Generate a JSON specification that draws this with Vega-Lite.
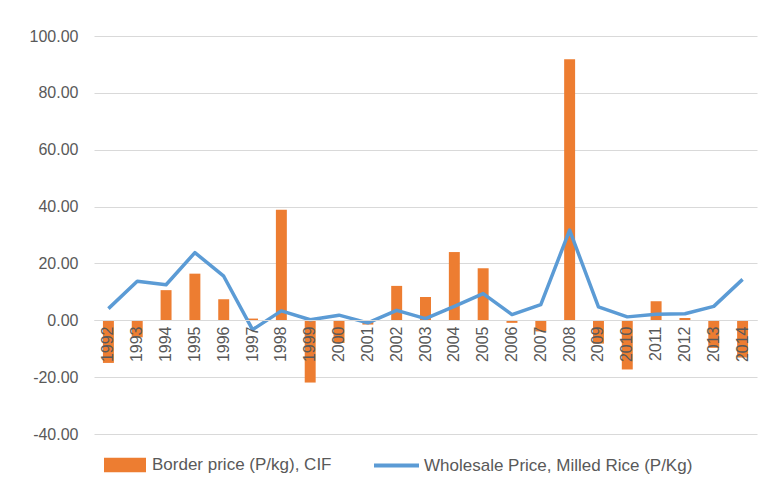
{
  "$schema": "https://vega.github.io/schema/vega-lite/v6.json",
  "width": 663,
  "height": 398,
  "autosize": {"type": "none"},
  "padding": {"left": 94, "top": 36, "right": 10, "bottom": 64},
  "background": "white",
  "config": {
    "view": {"stroke": null},
    "font": "Liberation Sans",
    "locale": {"number": {"decimal": ".", "thousands": ",", "grouping": [3], "currency": ["$", ""], "minus": "-"}},
    "axis": {"labelFont": "Liberation Sans", "labelColor": "#595959"},
    "legend": {"labelFont": "Liberation Sans", "labelColor": "#595959", "labelLimit": 400}
  },
  "data": {
    "values": [
      {"year": "1992", "border": -15.0, "wholesale": 4.1},
      {"year": "1993", "border": -6.0, "wholesale": 13.7},
      {"year": "1994", "border": 10.6, "wholesale": 12.5},
      {"year": "1995", "border": 16.4, "wholesale": 23.8},
      {"year": "1996", "border": 7.4, "wholesale": 15.5},
      {"year": "1997", "border": 0.6, "wholesale": -3.3},
      {"year": "1998", "border": 38.9, "wholesale": 3.3},
      {"year": "1999", "border": -21.9, "wholesale": 0.2},
      {"year": "2000", "border": -8.0, "wholesale": 1.8},
      {"year": "2001", "border": -1.5, "wholesale": -0.9},
      {"year": "2002", "border": 12.1, "wholesale": 3.5},
      {"year": "2003", "border": 8.2, "wholesale": 0.6},
      {"year": "2004", "border": 24.0, "wholesale": 4.9},
      {"year": "2005", "border": 18.3, "wholesale": 9.4},
      {"year": "2006", "border": -0.9, "wholesale": 2.0},
      {"year": "2007", "border": -3.9, "wholesale": 5.5},
      {"year": "2008", "border": 91.8, "wholesale": 31.7},
      {"year": "2009", "border": -8.2, "wholesale": 4.7},
      {"year": "2010", "border": -17.3, "wholesale": 1.2},
      {"year": "2011", "border": 6.7, "wholesale": 2.1},
      {"year": "2012", "border": 0.8, "wholesale": 2.3},
      {"year": "2013", "border": -9.7, "wholesale": 4.9},
      {"year": "2014", "border": -13.1, "wholesale": 14.4}
    ]
  },
  "encoding": {
    "x": {
      "field": "year",
      "type": "ordinal",
      "title": null,
      "scale": {"paddingInner": 0.62, "paddingOuter": 0.31},
      "axis": {
        "orient": "bottom",
        "offset": -114,
        "labelAngle": 270,
        "labelFontSize": 16,
        "labelPadding": 6,
        "ticks": false,
        "domainColor": "#d9d9d9",
        "domainWidth": 1,
        "grid": false,
        "zindex": 1
      }
    }
  },
  "layer": [
    {
      "mark": {"type": "bar", "orient": "vertical"},
      "encoding": {
        "y": {
          "field": "border",
          "type": "quantitative",
          "title": null,
          "scale": {"domain": [-40, 100], "nice": false, "zero": false},
          "axis": {
            "values": [-40, -20, 0, 20, 40, 60, 80, 100],
            "format": ".2f",
            "labelFontSize": 16,
            "labelPadding": 16,
            "ticks": false,
            "domain": false,
            "gridColor": "#d9d9d9",
            "gridWidth": 1
          }
        },
        "fill": {
          "datum": "Border price (P/kg), CIF",
          "scale": {"range": ["#ED7D31"]},
          "legend": {
            "title": null,
            "orient": "none",
            "legendX": 10,
            "legendY": 408,
            "padding": 0,
            "symbolType": "M-1,-0.35H1V0.35H-1Z",
            "symbolSize": 1764,
            "symbolStrokeWidth": 0,
            "labelFontSize": 17,
            "labelOffset": 6
          }
        }
      }
    },
    {
      "mark": {"type": "line", "strokeWidth": 3.5, "strokeJoin": "round"},
      "encoding": {
        "y": {"field": "wholesale", "type": "quantitative"},
        "stroke": {
          "datum": "Wholesale Price, Milled Rice (P/Kg)",
          "scale": {"range": ["#5B9BD5"]},
          "legend": {
            "title": null,
            "orient": "none",
            "legendX": 278,
            "legendY": 405,
            "padding": 0,
            "symbolType": "stroke",
            "symbolSize": 2025,
            "symbolStrokeWidth": 4,
            "labelFontSize": 17,
            "labelOffset": 3
          }
        }
      }
    }
  ]
}
